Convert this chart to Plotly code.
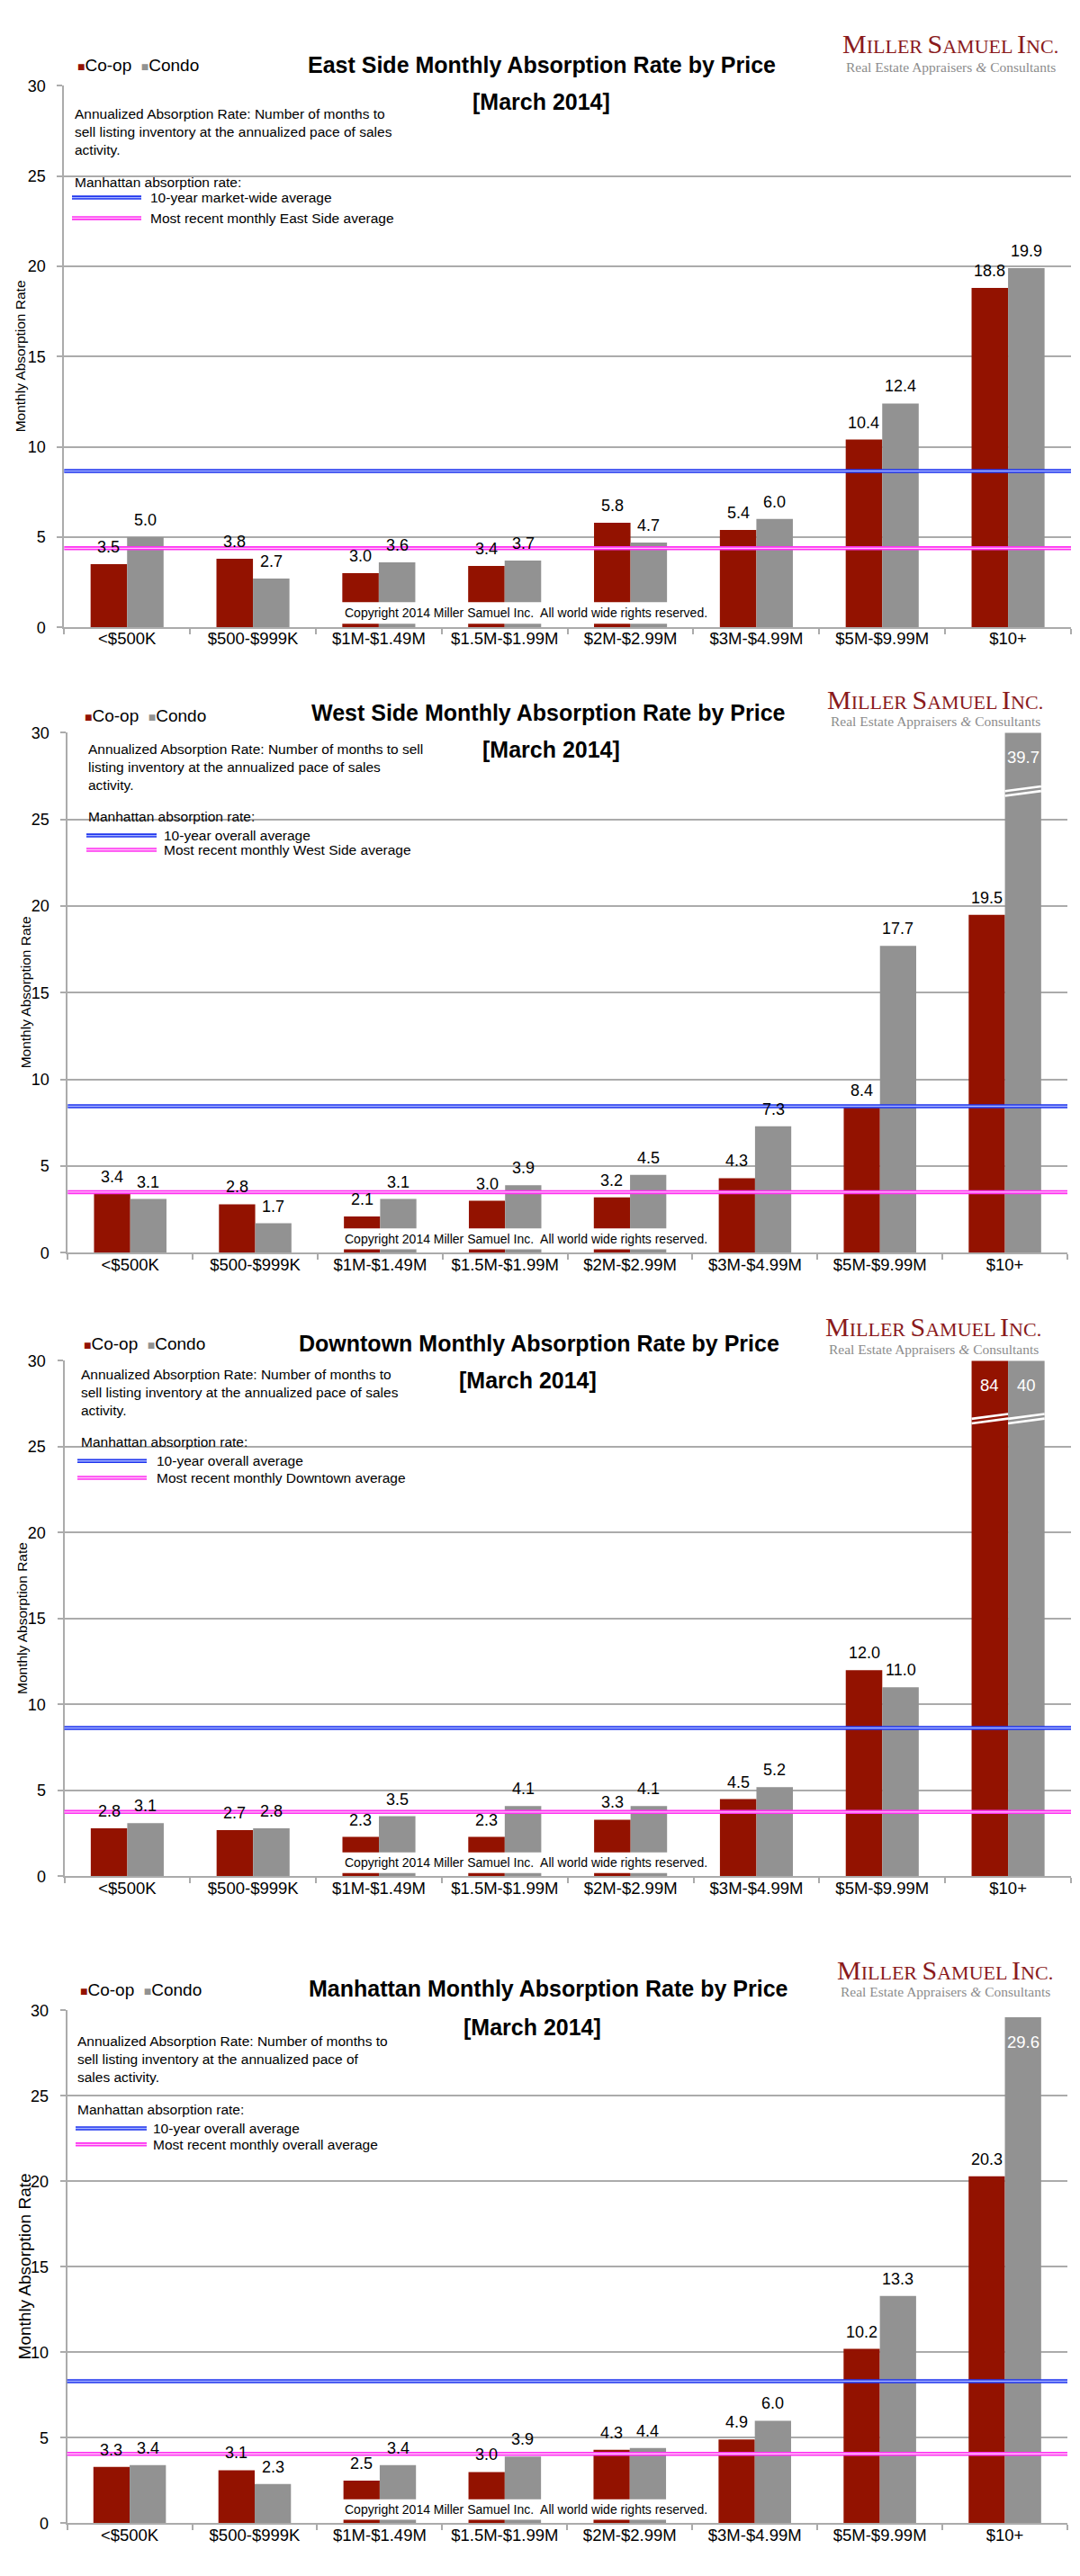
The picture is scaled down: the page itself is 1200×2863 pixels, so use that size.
import plotly.graph_objects as go

# ---------------- data ----------------
CATEGORIES = ["<$500K", "$500-$999K", "$1M-$1.49M", "$1.5M-$1.99M",
              "$2M-$2.99M", "$3M-$4.99M", "$5M-$9.99M", "$10+"]
SERIES = ["Co-op", "Condo"]
REPORT_DATE = "[March 2014]"
Y_TITLE = "Monthly Absorption Rate"
Y_TICKS = [0, 5, 10, 15, 20, 25, 30]

EAST_TITLE = "East Side Monthly Absorption Rate by Price"
EAST_COOP = [3.5, 3.8, 3.0, 3.4, 5.8, 5.4, 10.4, 18.8]
EAST_CONDO = [5.0, 2.7, 3.6, 3.7, 4.7, 6.0, 12.4, 19.9]
EAST_AVG_10YR = 8.66
EAST_AVG_RECENT = 4.38
EAST_NOTE = ["Annualized Absorption Rate: Number of months to",
             "sell listing inventory at the annualized pace of sales",
             "activity."]
EAST_LEGEND = ["10-year market-wide average", "Most recent monthly East Side average"]

WEST_TITLE = "West Side Monthly Absorption Rate by Price"
WEST_COOP = [3.4, 2.8, 2.1, 3.0, 3.2, 4.3, 8.4, 19.5]
WEST_CONDO = [3.1, 1.7, 3.1, 3.9, 4.5, 7.3, 17.7, 39.7]
WEST_AVG_10YR = 8.45
WEST_AVG_RECENT = 3.5
WEST_NOTE = ["Annualized Absorption Rate: Number of months to sell",
             "listing inventory at the annualized pace of sales",
             "activity."]
WEST_LEGEND = ["10-year overall average", "Most recent monthly West Side average"]

DOWNTOWN_TITLE = "Downtown Monthly Absorption Rate by Price"
DOWNTOWN_COOP = [2.8, 2.7, 2.3, 2.3, 3.3, 4.5, 12.0, 84]
DOWNTOWN_CONDO = [3.1, 2.8, 3.5, 4.1, 4.1, 5.2, 11.0, 40]
DOWNTOWN_AVG_10YR = 8.64
DOWNTOWN_AVG_RECENT = 3.75
DOWNTOWN_NOTE = ["Annualized Absorption Rate: Number of months to",
                 "sell listing inventory at the annualized pace of sales",
                 "activity."]
DOWNTOWN_LEGEND = ["10-year overall average", "Most recent monthly Downtown average"]

MANHATTAN_TITLE = "Manhattan Monthly Absorption Rate by Price"
MANHATTAN_COOP = [3.3, 3.1, 2.5, 3.0, 4.3, 4.9, 10.2, 20.3]
MANHATTAN_CONDO = [3.4, 2.3, 3.4, 3.9, 4.4, 6.0, 13.3, 29.6]
MANHATTAN_AVG_10YR = 8.31
MANHATTAN_AVG_RECENT = 4.06
MANHATTAN_NOTE = ["Annualized Absorption Rate: Number of months to",
                  "sell listing inventory at the annualized pace of",
                  "sales activity."]
MANHATTAN_LEGEND = ["10-year overall average", "Most recent monthly overall average"]

LEGEND_HEAD = "Manhattan absorption rate:"
COPYRIGHT = "Copyright 2014 Miller Samuel Inc.  All world wide rights reserved."

# ---------------- style / layout ----------------
W, H = 1200, 2863
RED = "#931200"
GRAY = "#929292"
GRID = "#ABABAB"
BLUE = "#1F35EE"
BLUE_IN = "#A8B6FF"
PINK = "#FF30F2"
PINK_IN = "#FFC4F8"
LOGO_RED = "#8A1A1C"
SANS = "Liberation Sans, Arial, Helvetica, sans-serif"
SERIF = "Liberation Serif, Times New Roman, serif"
BARGAP = 0.42
YMAX = 30
BREAK_AT = 26.5

charts = [
    dict(title=EAST_TITLE, coop=EAST_COOP, condo=EAST_CONDO, avg10=EAST_AVG_10YR,
         avgr=EAST_AVG_RECENT, note=EAST_NOTE, legend=EAST_LEGEND,
         plot=(63.3, 1182, 78, 684), title_xy=(594, 54), leg_xy=(76, 55),
         logo=(1048, 31, 57), march=(593, 96), note_xy=(73, 109), head_y=186,
         lines=(72, 149, 203, 226, 157), ytitle=(14, 15.5)),
    dict(title=WEST_TITLE, coop=WEST_COOP, condo=WEST_CONDO, avg10=WEST_AVG_10YR,
         avgr=WEST_AVG_RECENT, note=WEST_NOTE, legend=WEST_LEGEND,
         plot=(67.3, 1178, 802, 1384), title_xy=(601, 779), leg_xy=(84, 783),
         logo=(1031, 765, 789), march=(604, 821), note_xy=(88, 820), head_y=896,
         lines=(88, 166, 917, 933, 172), ytitle=(20, 15.5)),
    dict(title=DOWNTOWN_TITLE, coop=DOWNTOWN_COOP, condo=DOWNTOWN_CONDO, avg10=DOWNTOWN_AVG_10YR,
         avgr=DOWNTOWN_AVG_RECENT, note=DOWNTOWN_NOTE, legend=DOWNTOWN_LEGEND,
         plot=(63.5, 1182, 1505, 2082), title_xy=(591, 1485), leg_xy=(83, 1486),
         logo=(1029, 1467, 1492), march=(578, 1527), note_xy=(80, 1520), head_y=1596,
         lines=(78, 155, 1617, 1636, 164), ytitle=(17, 15.5)),
    dict(title=MANHATTAN_TITLE, coop=MANHATTAN_COOP, condo=MANHATTAN_CONDO, avg10=MANHATTAN_AVG_10YR,
         avgr=MANHATTAN_AVG_RECENT, note=MANHATTAN_NOTE, legend=MANHATTAN_LEGEND,
         plot=(66.6, 1178, 2232, 2806), title_xy=(601, 2207), leg_xy=(79, 2209),
         logo=(1042, 2187, 2211), march=(583, 2251), note_xy=(76, 2266), head_y=2343,
         lines=(76, 155, 2364, 2382, 160), ytitle=(19, 19)),
]


def px(x):
    return x / W


def py(y):
    return 1 - y / H


def fmt(v):
    return f"{v:g}" if v >= YMAX else f"{v:.1f}"


def paper_note(x, y, text, size, xanchor="center", yanchor="middle", **kw):
    d = dict(x=px(x), y=py(y), xref="paper", yref="paper", text=text, showarrow=False,
             xanchor=xanchor, yanchor=yanchor, font=dict(size=size, **kw.pop("font", {})))
    d.update(kw)
    return d


fig = go.Figure()
layout = dict(width=W, height=H, autosize=False, margin=dict(l=0, r=0, t=0, b=0),
              paper_bgcolor="white", plot_bgcolor="white", barmode="group",
              bargap=BARGAP, bargroupgap=0, showlegend=False,
              font=dict(family=SANS, color="black"))
shapes = []
annotations = []

half = (1 - BARGAP) / 4  # half bar width == offset of bar centre from category centre

for k, c in enumerate(charts, start=1):
    xa = "x" if k == 1 else f"x{k}"
    ya = "y" if k == 1 else f"y{k}"
    xl, xr, yt, yb = c["plot"]

    for name, vals, col in ((SERIES[0], c["coop"], RED), (SERIES[1], c["condo"], GRAY)):
        fig.add_trace(go.Bar(x=CATEGORIES, y=vals, name=name, marker=dict(color=col, line=dict(width=0)),
                             xaxis=xa, yaxis=ya, hoverinfo="x+y+name"))

    layout[f"xaxis{'' if k == 1 else k}"] = dict(
        domain=[px(xl), px(xr)], anchor=ya, type="category", categoryorder="array",
        categoryarray=CATEGORIES, showline=True, linecolor=GRID, linewidth=2,
        ticks="outside", tickson="boundaries", ticklen=6, tickcolor=GRID, tickwidth=1.5,
        showgrid=False, tickfont=dict(size=18.5, family=SANS), ticklabelstandoff=-5,
        fixedrange=True)
    layout[f"yaxis{'' if k == 1 else k}"] = dict(
        domain=[py(yb), py(yt)], anchor=xa, range=[0, YMAX], tickvals=Y_TICKS,
        showgrid=True, gridcolor=GRID, gridwidth=2, zeroline=False,
        showline=True, linecolor=GRID, linewidth=2, ticks="outside", ticklen=6,
        tickcolor=GRID, tickwidth=1.5, tickfont=dict(size=18, family=SANS),
        ticklabelstandoff=9, fixedrange=True)

    # average lines across the plot
    for val, outer, inner in ((c["avg10"], BLUE, BLUE_IN), (c["avgr"], PINK, PINK_IN)):
        shapes.append(dict(type="line", xref=f"{xa} domain", yref=ya, x0=0, x1=1, y0=val, y1=val,
                           line=dict(color=outer, width=4.5), layer="above"))
        shapes.append(dict(type="line", xref=f"{xa} domain", yref=ya, x0=0, x1=1, y0=val, y1=val,
                           line=dict(color=inner, width=1.4), layer="above"))

    # data labels and break marks
    for s, vals in enumerate((c["coop"], c["condo"])):
        off = -half if s == 0 else half
        for j, v in enumerate(vals):
            xc = j + off
            if v > 28:
                annotations.append(dict(x=xc, y=min(v, YMAX), xref=xa, yref=ya, text=fmt(v),
                                        showarrow=False, xanchor="center", yanchor="top", yshift=-15,
                                        font=dict(size=18.5, color="white")))
            else:
                annotations.append(dict(x=xc, y=v, xref=xa, yref=ya, text=fmt(v),
                                        showarrow=False, xanchor="center", yanchor="bottom", yshift=7,
                                        font=dict(size=18, color="black")))
            if v > YMAX:
                for dy in (0.0, 0.27):
                    shapes.append(dict(type="line", xref=xa, yref=ya,
                                       x0=xc - half, x1=xc + half,
                                       y0=BREAK_AT + dy - 0.14, y1=BREAK_AT + dy + 0.14,
                                       line=dict(color="white", width=2.6), layer="above"))

    # copyright box
    shapes.append(dict(type="rect", xref=xa, yref=ya, x0=1.68, x1=4.66, y0=0.2, y1=1.4,
                       fillcolor="white", line=dict(width=0), layer="above"))
    annotations.append(dict(x=3.17, y=0.8, xref=xa, yref=ya, text=COPYRIGHT, showarrow=False,
                            xanchor="center", yanchor="middle", font=dict(size=14, color="black")))

    # title, date
    tx, ty = c["title_xy"]
    annotations.append(paper_note(tx, ty, f"<b>{c['title']}</b>", 25))
    mx, my = c["march"]
    annotations.append(paper_note(mx, my, f"<b>{REPORT_DATE}</b>", 25))

    # series legend
    lx, ly = c["leg_xy"]
    leg = (f'<span style="color:{RED};font-size:14px">■</span>{SERIES[0]}  '
           f'<span style="color:{GRAY};font-size:14px">■</span>{SERIES[1]}')
    annotations.append(paper_note(lx, ly, leg, 19, xanchor="left"))

    # logo
    gx, gy1, gy2 = c["logo"]
    big = 'style="font-size:30px"'
    logo = f'<span {big}>M</span>ILLER <span {big}>S</span>AMUEL <span {big}>I</span>NC.'
    annotations.append(paper_note(gx, gy1, logo, 22, font=dict(family=SERIF, color=LOGO_RED)))
    annotations.append(paper_note(gx, gy2, "Real Estate Appraisers <i>&amp;</i> Consultants", 15.5,
                                  font=dict(family=SERIF, color="#8C8C8C")))

    # explanatory note
    nx, ny = c["note_xy"]
    annotations.append(paper_note(nx, ny - 10, "<br>".join(c["note"]), 15.5,
                                  xanchor="left", yanchor="top", align="left"))
    annotations.append(paper_note(nx, c["head_y"], LEGEND_HEAD, 15.5, xanchor="left"))

    # legend lines for averages
    x0, x1, yb_, yp_, ltx = c["lines"]
    for yy, outer, inner, label in ((yb_, BLUE, BLUE_IN, c["legend"][0]),
                                    (yp_, PINK, PINK_IN, c["legend"][1])):
        shapes.append(dict(type="line", xref="paper", yref="paper", x0=px(x0), x1=px(x1),
                           y0=py(yy), y1=py(yy), line=dict(color=outer, width=4.5)))
        shapes.append(dict(type="line", xref="paper", yref="paper", x0=px(x0), x1=px(x1),
                           y0=py(yy), y1=py(yy), line=dict(color=inner, width=1.4)))
        annotations.append(paper_note(ltx, yy, label, 15.5, xanchor="left"))

    # y axis title
    yx, ysz = c["ytitle"]
    annotations.append(dict(x=px(yx), y=0.5, xref="paper", yref=f"{ya} domain", text=Y_TITLE,
                            textangle=-90, showarrow=False, xanchor="center", yanchor="middle",
                            font=dict(size=ysz)))

layout["shapes"] = shapes
layout["annotations"] = annotations
fig.update_layout(**layout)
fig.write_html("out.html", config={"displayModeBar": False})
